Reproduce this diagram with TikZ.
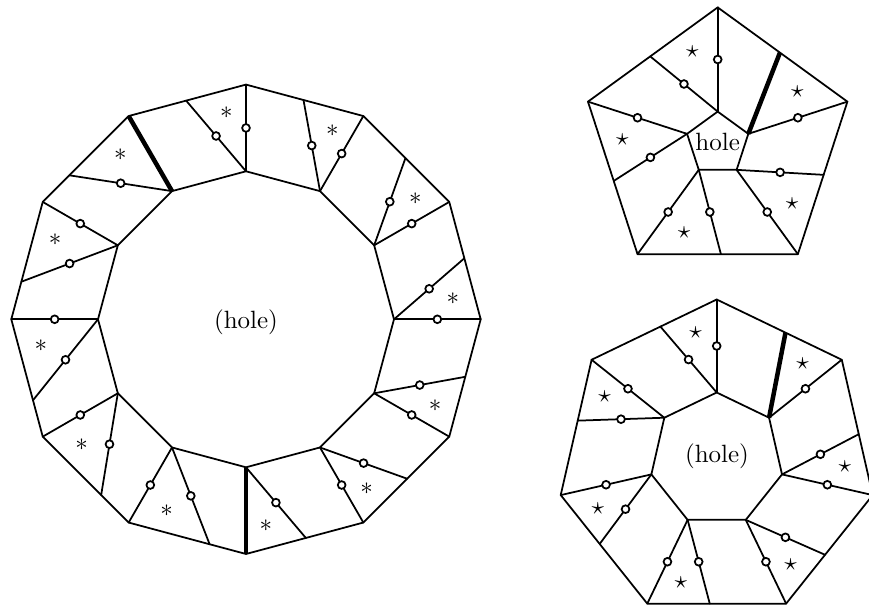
\documentclass[tikz,border=0pt]{standalone}
\usetikzlibrary{calc}

\tikzset{
  edge/.style={line width=0.7pt, line join=round, line cap=round},
  seam/.style={line width=1.8pt, line cap=butt},
  dot/.style={circle, draw, fill=white, line width=0.7pt, inner sep=0pt, minimum size=3.1pt},
  starmark/.style={inner sep=0pt},
  holelabel/.style={inner sep=0pt}
}

\begin{document}
\begin{tikzpicture}[x=0.4pt,y=0.4pt]
\useasboundingbox (0,0) rectangle (869,607);
\clip (0,0) rectangle (869,607);

% ---------- twelve-sided ring ----------
\foreach \k in {0,...,11} {
  \coordinate (AO\k) at ($(246,287.7)+(30*\k:234.7)$);
  \coordinate (AI\k) at ($(246,287.7)+(30*\k:148)$);
}
\draw[edge] (AO0) \foreach \k in {1,...,11} {-- (AO\k)} -- cycle;
\draw[edge] (AI0) \foreach \k in {1,...,11} {-- (AI\k)} -- cycle;
% \t = 1: radial edge is the seam, 0: plain
\foreach \k/\f/\t in {0/0.52/0,1/0.51/0,2/0.51/0,3/0.51/0,4/0.69/1,5/0.68/0,
                      6/0.69/0,7/0.68/0,8/0.69/0,9/0.51/1,10/0.51/0,11/0.51/0} {
  \pgfmathtruncatemacro{\n}{mod(\k+1,12)}
  \coordinate (AP\k) at ($(AO\k)!\f!(AO\n)$);
  \draw[edge] (AI\k) -- (AP\k);
  \node[dot] (ADs\k) at ($(AI\k)!0.5!(AP\k)$) {};
  \ifnum\t=1
    \draw[seam] (AI\k) -- (AO\k);
  \else
    \draw[edge] (AI\k) -- (AO\k);
    \node[dot] (ADr\k) at ($(AI\k)!0.5!(AO\k)$) {};
  \fi
  \node[starmark] (AS\k) at ($0.26*(AI\k)+0.41*(AO\k)+0.33*(AP\k)$) {$*$};
}
\node[holelabel] (Ahole) at (246,285) {(hole)};

% ---------- pentagonal ring ----------
\foreach \k in {0,...,4} {
  \coordinate (BO\k) at ($(717.7,463.2)+(90+72*\k:136.4)$);
  \coordinate (BI\k) at ($(717.7,463.2)+(90+72*\k:32.2)$);
}
\draw[edge] (BO0) \foreach \k in {1,...,4} {-- (BO\k)} -- cycle;
\draw[edge] (BI0) \foreach \k in {1,...,4} {-- (BI\k)} -- cycle;
% \t = 1: spoke to the side point is the seam
\foreach \k/\t in {0/0,1/0,2/0,3/0,4/1} {
  \pgfmathtruncatemacro{\n}{mod(\k+1,5)}
  \coordinate (BP\k) at ($(BO\k)!0.52!(BO\n)$);
  \draw[edge] (BI\k) -- (BO\k);
  \node[dot] (BDr\k) at ($(BI\k)!0.5!(BO\k)$) {};
  \ifnum\t=1
    \draw[seam] (BI\k) -- (BP\k);
  \else
    \draw[edge] (BI\k) -- (BP\k);
    \node[dot] (BDs\k) at ($(BI\k)!0.5!(BP\k)$) {};
  \fi
  \node[starmark] (BS\k) at ($0.25*(BI\k)+0.375*(BO\k)+0.375*(BP\k)$) {$\star$};
}
\node[holelabel] (Bhole) at (717.7,465) {hole};

% ---------- heptagonal ring ----------
\foreach \k in {0,...,6} {
  \coordinate (CO\k) at ($(716.7,147.5)+(90+360/7*\k:160)$);
  \coordinate (CI\k) at ($(716.7,147.5)+(90+360/7*\k:67)$);
}
\draw[edge] (CO0) \foreach \k in {1,...,6} {-- (CO\k)} -- cycle;
\draw[edge] (CI0) \foreach \k in {1,...,6} {-- (CI\k)} -- cycle;
\foreach \k/\t in {0/0,1/0,2/0,3/0,4/0,5/0,6/1} {
  \pgfmathtruncatemacro{\n}{mod(\k+1,7)}
  \coordinate (CP\k) at ($(CO\k)!0.45!(CO\n)$);
  \draw[edge] (CI\k) -- (CO\k);
  \node[dot] (CDr\k) at ($(CI\k)!0.5!(CO\k)$) {};
  \ifnum\t=1
    \draw[seam] (CI\k) -- (CP\k);
  \else
    \draw[edge] (CI\k) -- (CP\k);
    \node[dot] (CDs\k) at ($(CI\k)!0.5!(CP\k)$) {};
  \fi
  \node[starmark] (CS\k) at ($0.25*(CI\k)+0.375*(CO\k)+0.375*(CP\k)$) {$\star$};
}
\node[holelabel] (Chole) at (717,151) {(hole)};
\end{tikzpicture}
\end{document}
